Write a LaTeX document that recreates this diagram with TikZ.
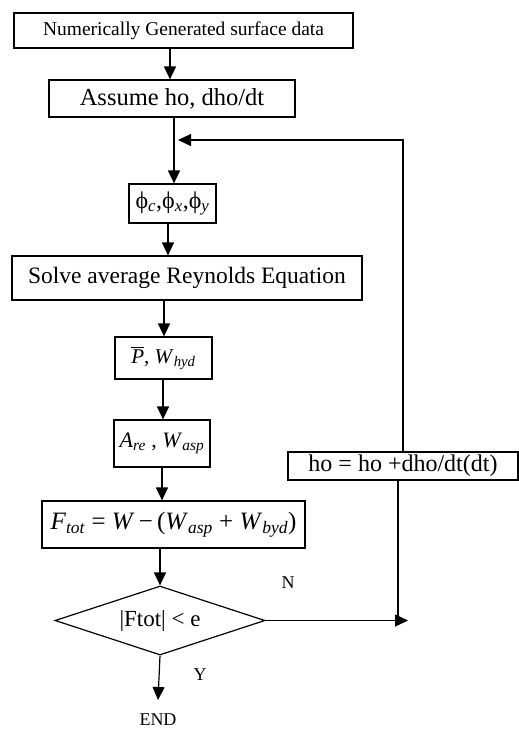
\documentclass[tikz,border=0pt]{standalone}
\usepackage{amsmath}
\usepackage{fontspec}
\setmainfont{Liberation Serif}
\usetikzlibrary{arrows.meta,shapes.geometric}
\newcommand\fs[1]{\fontsize{#1}{#1}\selectfont}
\newcommand\ti[1]{\textit{#1}}
\newcommand\sub[1]{$_{\text{\textit{#1}}}$}
\tikzset{
  box/.style={draw, line width=1.2pt, inner sep=0pt, anchor=center},
  arr/.style={line width=1.2pt, -{Triangle[length=13pt,width=12pt]}},
  ln/.style={line width=1.2pt},
  lbl/.style={inner sep=0pt, font=\fs{18}},
}
\begin{document}
\begin{tikzpicture}[x=1pt,y=-1pt]
\useasboundingbox (0,0) rectangle (519,729);
\node[box, minimum width=339pt, minimum height=35pt, font=\fs{19.5}] (b1) at (183.5,30.5) {Numerically Generated surface data};
\node[box, minimum width=246pt, minimum height=37pt, font=\fs{24.5}] (b2) at (172,98.5) {Assume ho, dho/dt};
\node[box, minimum width=87pt, minimum height=39pt, font=\fs{24}] (b3) at (172.5,203.5) {ϕ\sub{c},ϕ\sub{x},ϕ\sub{y}};
\node[box, minimum width=350pt, minimum height=44pt, font=\fs{23.5}] (b4) at (187,278) {Solve average Reynolds Equation};
\node[box, minimum width=97pt, minimum height=42pt, font=\fs{21}] (b5) at (163.5,358) {$\overline{\ti{P}}$, \ti{W}\sub{hyd}};
\node[box, minimum width=96pt, minimum height=47pt, font=\fs{22}] (b6) at (162,443.5) {\ti{A}\sub{re} , \ti{W}\sub{asp}};
\node[box, minimum width=263pt, minimum height=47pt, font=\fs{25}] (b7) at (173.5,524.5) {\ti{F}\sub{tot} = \ti{W}\,−\,(\ti{W}\sub{asp} + \ti{W}\sub{byd})};
\node[draw, line width=1.2pt, diamond, aspect=3, inner sep=0pt, minimum width=210pt, minimum height=69pt, font=\fs{23}] (dia) at (160,620.5) {|Ftot| < e};
\node[box, minimum width=230pt, minimum height=28pt, font=\fs{24}] (ho) at (403,466) {ho = ho +dho/dt(dt)};
\node[lbl] (n) at (288,583) {N};
\node[lbl] (y) at (200,675) {Y};
\node[lbl] (end) at (158,719.5) {END};
\coordinate (j) at (178,140);
\coordinate (t) at (408,620.5);
\coordinate (m) at (398,620.5);
\draw[arr] (b1.south -| 170,0) -- (b2.north -| 170,0);
\draw[arr] (b2.south -| 174,0) -- (b3.north -| 174,0);
\draw[arr] (ho.north) |- (j);
\draw[arr] (b3.south -| 168,0) -- (b4.north -| 168,0);
\draw[arr] (b4.south -| 164,0) -- (b5.north -| 164,0);
\draw[arr] (b5.south -| 163,0) -- (b6.north -| 163,0);
\draw[arr] (b6.south -| 162,0) -- (b7.north -| 162,0);
\draw[arr] (b7.south -| 160,0) -- (dia.north);
\draw[arr] (dia.east) -- (t);
\draw[ln] (ho.south -| m) -- (m);
\draw[arr] (dia.south) -- (end.north |- 0,700);
\end{tikzpicture}
\end{document}
